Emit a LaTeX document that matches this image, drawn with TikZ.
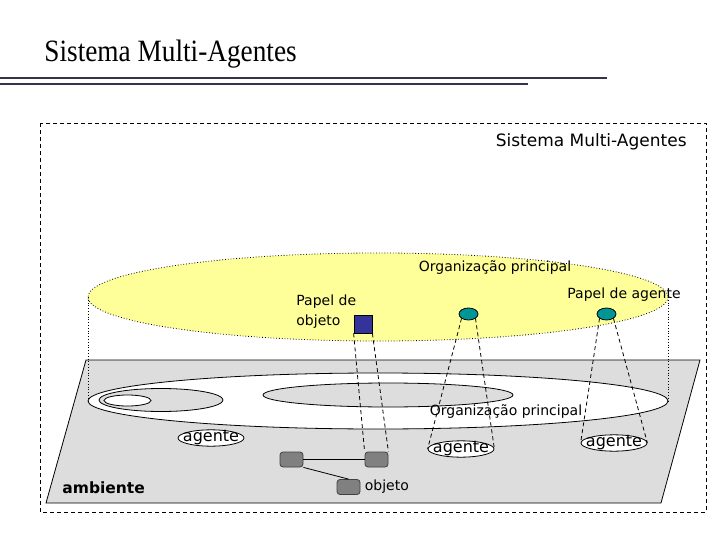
\documentclass[tikz,border=0pt]{standalone}
\usepackage{fontspec}
\setmainfont{Liberation Serif}
\setsansfont{DejaVu Sans}
\usetikzlibrary{shapes.geometric,positioning}
\definecolor{amarelo}{RGB}{255,255,153}
\definecolor{cinzaplano}{RGB}{221,221,221}
\definecolor{cinzaobj}{RGB}{128,128,128}
\definecolor{azulobj}{RGB}{51,51,153}
\definecolor{verdeag}{RGB}{0,150,150}
\definecolor{linhatit}{RGB}{51,51,77}

\begin{document}
\begin{tikzpicture}[x=1pt,y=-1pt,line width=0.8pt,
  rotulo/.style={font=\sffamily\fontsize{14}{20}\selectfont,inner sep=0pt},
  agente/.style={ellipse,draw,fill=white,inner xsep=-4.7pt,inner ysep=-1.5pt,font=\sffamily\fontsize{16}{18}\selectfont},
  papelag/.style={ellipse,draw,fill=verdeag,inner sep=0pt,minimum width=19pt,minimum height=12pt},
  objbox/.style={draw=black!75,fill=cinzaobj,rounded corners=3pt,inner sep=0pt,minimum width=23pt,minimum height=15pt},
  projecao/.style={dash pattern=on 4pt off 3pt}]
\useasboundingbox[fill=white] (0,0) rectangle (720,540);
\node[anchor=base west,inner sep=0pt,font=\fontsize{31}{34}\selectfont] (titulo) at (44,62) {\scalebox{0.88}[1]{Sistema Multi-Agentes}};
\draw[linhatit,line width=1.2pt] (0,78) -- (607,78);
\draw[linhatit,line width=1.2pt] (0,84) -- (528,84);
\draw[projecao] (40,123) rectangle (706,512);
\node[rotulo,anchor=east,font=\sffamily\fontsize{17}{20}\selectfont] (sma) at (687,142) {Sistema Multi-Agentes};
\draw[fill=cinzaplano] (86,360) -- (700,360) -- (661,503) -- (46,503) -- cycle;
\draw[fill=white] (378,401) ellipse [x radius=290,y radius=28];
\draw[fill=cinzaplano] (388,395) ellipse [x radius=125,y radius=12];
\draw[fill=cinzaplano] (161,400) ellipse [x radius=62,y radius=11.5];
\draw[fill=white] (127.5,400.5) ellipse [x radius=23.5,y radius=5.5];
\draw[dotted,fill=amarelo] (378,297) ellipse [x radius=290,y radius=44];
\coordinate (supW) at (88,297);
\coordinate (supE) at (668,297);
\coordinate (infW) at (88,401);
\coordinate (infE) at (668,401);
\draw[dotted] (supW) -- (infW);
\draw[dotted] (supE) -- (infE);
\node[rotulo] (orgsup) at (495,268) {Organização principal};
\node[rotulo] (papelagtxt) at (624,295) {Papel de agente};
\node[rotulo,anchor=west,align=left] (papelobjtxt) at (296,312) {Papel de\\objeto};
\node[draw,fill=azulobj,minimum size=18pt,inner sep=0pt] (papelobj) at (363,324) {};
\node[papelag] (papelagA) at (468.5,314) {};
\node[papelag] (papelagB) at (606.5,314) {};
\node[rotulo] (orginf) at (506,412) {Organização principal};
\node[agente] (agenteA) at (211,438) {agente};
\node[agente] (agenteB) at (461,449) {agente};
\node[agente] (agenteC) at (614,443) {agente};
\node[objbox] (objA) at (291.5,459.5) {};
\node[objbox] (objB) at (376.5,459.5) {};
\node[objbox] (objC) at (348.5,487) {};
\node[rotulo,right=4pt of objC] (objtxt) {objeto};
\node[rotulo,anchor=west,font=\sffamily\bfseries\fontsize{15.5}{18}\selectfont] (amb) at (62,488) {ambiente};
\draw (objA) -- (objB);
\draw (objA.south east) -- (objC.north);
\draw[projecao] (papelobj.south west) -- (objB.north west);
\draw[projecao] (papelobj.south east) -- (objB.north east);
\draw[projecao] (papelagA.south west) -- (agenteB.west);
\draw[projecao] (papelagA.south east) -- (agenteB.east);
\draw[projecao] (papelagB.south west) -- (agenteC.west);
\draw[projecao] (papelagB.south east) -- (agenteC.east);
\end{tikzpicture}
\end{document}
